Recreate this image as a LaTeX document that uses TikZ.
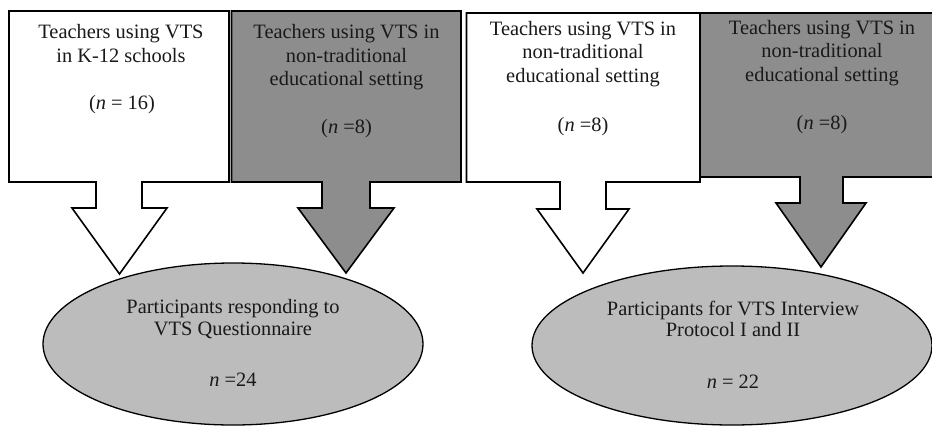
\documentclass[tikz,border=0pt]{standalone}
\usepackage{fontspec}
\setmainfont{Liberation Serif}
\usetikzlibrary{shapes.geometric}

\definecolor{boxgray}{RGB}{141,141,141}
\definecolor{ovalgray}{RGB}{188,188,188}

\tikzset{
  blockarrow/.style={draw=black, line width=1.6pt, line join=miter},
  oval/.style={ellipse, draw=black, line width=1.3pt, fill=ovalgray, inner sep=0pt},
  txt/.style={font=\fontsize{20.4pt}{23.5pt}\selectfont, inner sep=0pt, anchor=base, text=black!90},
}

\begin{document}
\begin{tikzpicture}[x=1pt, y=-1pt]
  \useasboundingbox (0,0) rectangle (932,426);
  \clip (0,0) rectangle (932,426);

  % target groups
  \node[oval, minimum width=380pt, minimum height=162pt] (e1) at (233,344) {};
  \node[oval, minimum width=400pt, minimum height=159pt] (e2) at (732,345.5) {};

  % source boxes, each joined to its block arrow
  \draw[blockarrow, fill=white]
    (9,11) -- (229,11) -- (229,182) -- (142,182) -- (142,208) -- (167,208)
    -- (119.5,274) -- (72,208) -- (96,208) -- (96,182) -- (9,182) -- cycle;
  \draw[blockarrow, fill=boxgray]
    (231.5,11) -- (461,11) -- (461,182) -- (370,182) -- (370,208) -- (394,208)
    -- (346,273) -- (298,208) -- (322,208) -- (322,182) -- (231.5,182) -- cycle;
  \draw[blockarrow, fill=white]
    (466.5,13) -- (700,13) -- (700,182) -- (606,182) -- (606,209) -- (629,209)
    -- (583,273) -- (537,209) -- (560,209) -- (560,182) -- (466.5,182) -- cycle;
  \draw[blockarrow, fill=boxgray]
    (700,13) -- (944,13) -- (944,177) -- (843,177) -- (843,203) -- (866,203)
    -- (821,267) -- (776,203) -- (800,203) -- (800,177) -- (700,177) -- cycle;

  % box texts
  \node[txt] (a1) at (121,38.5) {Teachers using VTS};
  \node[txt] (a2) at (121,62) {in K-12 schools};
  \node[txt] (a3) at (122,109) {(\textit{n} = 16)};

  \node[txt] (b1) at (346.5,38.5) {Teachers using VTS in};
  \node[txt] (b2) at (346.5,62) {non-traditional};
  \node[txt] (b3) at (346.5,85.5) {educational setting};
  \node[txt] (b4) at (346.5,133) {(\textit{n} =8)};

  \node[txt] (c1) at (583,35) {Teachers using VTS in};
  \node[txt] (c2) at (583,58.5) {non-traditional};
  \node[txt] (c3) at (583,82) {educational setting};
  \node[txt] (c4) at (583,131) {(\textit{n} =8)};

  \node[txt] (d1) at (822,34) {Teachers using VTS in};
  \node[txt] (d2) at (822,57.5) {non-traditional};
  \node[txt] (d3) at (822,81) {educational setting};
  \node[txt] (d4) at (822,129) {(\textit{n} =8)};

  % oval texts
  \node[txt] (e1a) at (233,313.3) {Participants responding to};
  \node[txt] (e1b) at (233,335.7) {VTS Questionnaire};
  \node[txt] (e1c) at (233,386.7) {\textit{n} =24};

  \node[txt] (e2a) at (733,315) {Participants for VTS Interview};
  \node[txt] (e2b) at (733,336.7) {Protocol I and II};
  \node[txt] (e2c) at (733,388) {\textit{n} = 22};
\end{tikzpicture}
\end{document}
